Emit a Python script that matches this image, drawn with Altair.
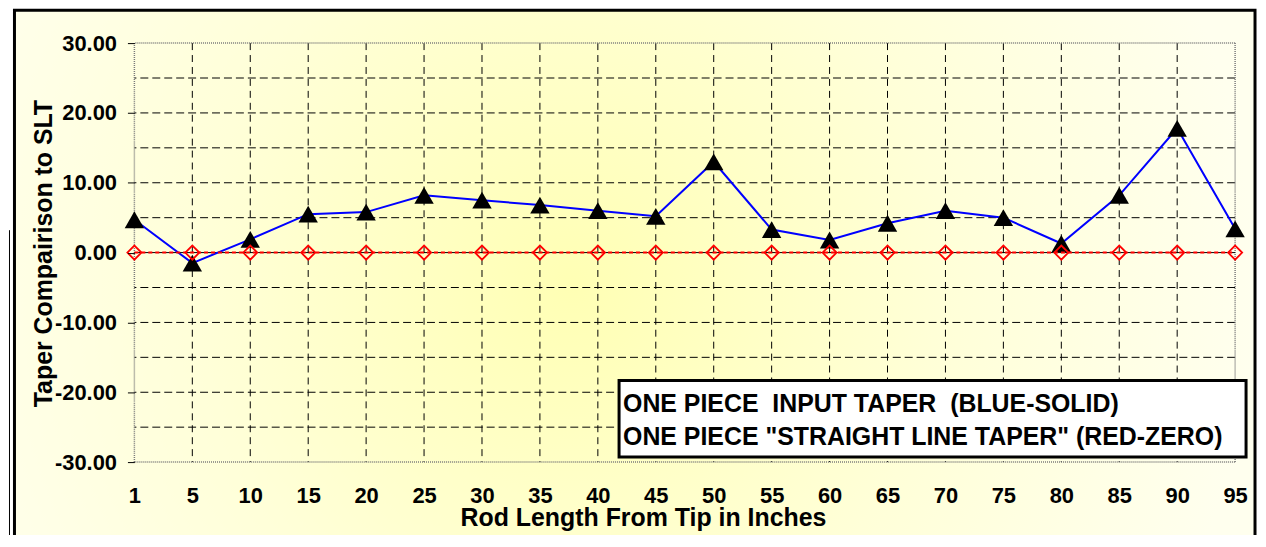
import altair as alt
import pandas as pd

# ---- data ----
positions = ["1", "5", "10", "15", "20", "25", "30", "35", "40", "45",
             "50", "55", "60", "65", "70", "75", "80", "85", "90", "95"]
input_taper = [4.7, -1.5, 1.9, 5.5, 5.8, 8.2, 7.5, 6.8, 6.0, 5.2,
               13.0, 3.3, 1.8, 4.2, 6.0, 5.0, 1.3, 8.2, 17.8, 3.4]
straight_line_taper = [0, 0, 0, 0, 0, 0, 0, 0, 0, 0,
                       0, 0, 0, 0, 0, 0, 0, 0, 0, 0]
y_tick_values = [-30, -20, -10, 0, 10, 20, 30]
y_grid_values = [-25, -20, -15, -10, -5, 5, 10, 15, 20, 25]
x_grid_positions = positions[1:-1]
border_y = [-30, 30]
border_x = ["1", "95"]
zero_level = [0]
legend_lines = ["ONE PIECE\u00a0 INPUT TAPER\u00a0 (BLUE-SOLID)",
                'ONE PIECE "STRAIGHT LINE TAPER" (RED-ZERO)']
x_title = "Rod Length From Tip in Inches"
y_title = "Taper Compairison to SLT"

W, H = 1106, 421
FONT = "Liberation Sans"

df = pd.DataFrame({"pos": positions, "input": input_taper, "slt": straight_line_taper})
one = pd.DataFrame({"a": [0]})

xscale = alt.Scale(type="point", domain=positions, padding=0)
yscale = alt.Scale(domain=[-30, 30], nice=False, zero=False)

x_axis = alt.Axis(
    title=x_title, grid=False, ticks=False, domain=False, labelAngle=0, zindex=2,
    labelFontSize=22, labelFontWeight="bold", labelColor="black", labelPadding=24,
    labelOverlap=False,
    titleFontSize=25, titleFontWeight="bold", titleColor="black",
    titleX=511, titleY=64, titleBaseline="alphabetic", titleAlign="center",
)
y_axis = alt.Axis(
    title=y_title, values=y_tick_values, grid=False, domain=False, zindex=2,
    labelExpr="(datum.value < 0 ? '-' : '') + format(abs(datum.value), '.2f')",
    tickSize=7, tickColor="black", tickWidth=1,
    labelFontSize=22, labelFontWeight="bold", labelColor="black", labelPadding=11,
    titleFontSize=25, titleFontWeight="bold", titleColor="black",
    titleAngle=270, titleX=-83, titleY=211, titleBaseline="alphabetic", titleAlign="center",
)


def X(field):
    return alt.X(field, scale=xscale, sort=positions, axis=x_axis)


def Y(field):
    return alt.Y(field, scale=yscale, axis=y_axis)


# background gradient + outer frame
bg = alt.Chart(one).mark_rect(
    fill=alt.RadialGradient(
        gradient="radial",
        stops=[alt.GradientStop(color="#FFFFB4", offset=0),
               alt.GradientStop(color="#FFFFD8", offset=0.55),
               alt.GradientStop(color="#FFFFEE", offset=1)],
        x1=0.45, y1=0.5, r1=0, x2=0.45, y2=0.5, r2=0.55),
    stroke="black", strokeWidth=3,
).encode(x=alt.value(-120.5), x2=alt.value(1126), y=alt.value(-33), y2=alt.value(520))

stub = alt.Chart(one).mark_rule(color="black", strokeWidth=1).encode(
    x=alt.value(-125.5), y=alt.value(188), y2=alt.value(520))

grid_h = alt.Chart(pd.DataFrame({"v": y_grid_values})).mark_rule(
    color="black", strokeWidth=1, strokeDash=[8, 4]
).encode(y=Y("v:Q"))

grid_v = alt.Chart(pd.DataFrame({"p": x_grid_positions})).mark_rule(
    color="black", strokeWidth=1, strokeDash=[7, 5]
).encode(x=X("p:O"))

border_h = alt.Chart(pd.DataFrame({"v": border_y})).mark_rule(
    color="#7a7a7a", strokeWidth=1.5, strokeDash=[1, 1]
).encode(y=Y("v:Q"))

border_v = alt.Chart(pd.DataFrame({"p": border_x})).mark_rule(
    color="#7a7a7a", strokeWidth=1.5, strokeDash=[1, 1]
).encode(x=X("p:O"))

zero_rule = alt.Chart(pd.DataFrame({"v": zero_level})).mark_rule(
    color="black", strokeWidth=1
).encode(y=Y("v:Q"))

blue_line = alt.Chart(df).mark_line(color="#0000FF", strokeWidth=2).encode(
    x=X("pos:O"), y=Y("input:Q"))
triangles = alt.Chart(df).mark_point(
    shape="triangle-up", filled=True, color="black", size=380, opacity=1
).encode(x=X("pos:O"), y=Y("input:Q"))

red_line = alt.Chart(df).mark_line(color="#FF0000", strokeWidth=2, strokeDash=[4, 3]).encode(
    x=X("pos:O"), y=Y("slt:Q"))
diamonds = alt.Chart(df).mark_point(
    shape="diamond", filled=False, color="#FF0000", size=200, strokeWidth=1.8, opacity=1
).encode(x=X("pos:O"), y=Y("slt:Q"))

legend_box = alt.Chart(one).mark_rect(fill="white", stroke="black", strokeWidth=3).encode(
    x=alt.value(487), x2=alt.value(1117), y=alt.value(339), y2=alt.value(416))
legend_text = alt.Chart(one).mark_text(
    align="left", baseline="alphabetic", font=FONT, fontSize=25, fontWeight="bold",
    color="black", lineHeight=33,
).encode(x=alt.value(491), y=alt.value(371), text=alt.value(legend_lines))

chart = alt.layer(
    bg, stub, grid_h, grid_v, border_h, border_v, zero_rule,
    blue_line, triangles, red_line, diamonds, legend_box, legend_text,
).properties(
    width=W, height=H,
    autosize=alt.AutoSizeParams(type="none"),
    padding={"left": 127, "top": 34, "right": 23, "bottom": 72},
).configure(
    background="white", font=FONT,
).configure_view(stroke=None)

chart.save("out.html", embed_options={"renderer": "svg", "actions": False})
